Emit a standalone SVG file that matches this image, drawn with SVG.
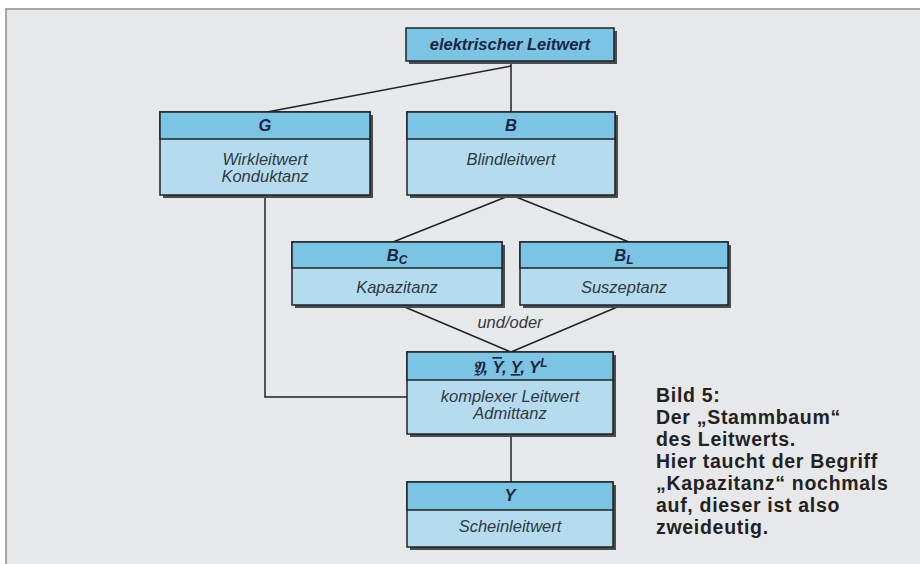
<svg xmlns="http://www.w3.org/2000/svg" width="920" height="564" viewBox="0 0 920 564">
<style>
.sh{fill:#4a4e52}
.hd{fill:#7cc4e4;stroke:#1e2328;stroke-width:1.5}
.bd{fill:#b5dcee;stroke:#1e2328;stroke-width:1.5}
.ht{font-family:"Liberation Sans",Arial,sans-serif;font-size:16.5px;font-weight:bold;font-style:italic;fill:#1c2640;text-anchor:middle}
.bt{font-family:"Liberation Sans",Arial,sans-serif;font-size:16.5px;font-style:italic;fill:#33383f;text-anchor:middle}
.cap{font-family:"Liberation Sans",Arial,sans-serif;font-size:19.5px;letter-spacing:0.7px;font-weight:bold;fill:#222}
.ln{stroke:#1e2328;stroke-width:1.5;fill:none}
</style>
<rect x="0" y="0" width="920" height="564" fill="#ffffff"/>
<rect x="6" y="9" width="920" height="560" fill="#e7e8ea" stroke="#8a8c8e" stroke-width="1.5"/>
<g id="connectors">
<line class="ln" x1="511" y1="61" x2="511" y2="112"/>
<line class="ln" x1="267" y1="112" x2="511" y2="66"/>
<line class="ln" x1="511" y1="195" x2="393" y2="242"/>
<line class="ln" x1="511" y1="195" x2="629" y2="242"/>
<line class="ln" x1="400" y1="305" x2="511" y2="352"/>
<line class="ln" x1="622" y1="305" x2="511" y2="352"/>
<polyline class="ln" points="265,195 265,397 407,397"/>
<line class="ln" x1="511" y1="434" x2="511" y2="482"/>
<text x="510" y="328" class="bt">und/oder</text>
</g>
<g id="leitwert">
<rect class="sh" x="409" y="31" width="208" height="33"/>
<rect class="hd" x="406" y="28" width="208" height="33"/>
<text class="ht" x="510" y="50">elektrischer Leitwert</text>
</g>
<g id="G">
<rect class="sh" x="163" y="115" width="210" height="83"/>
<rect class="bd" x="160" y="112" width="210" height="83"/>
<rect class="hd" x="160" y="112" width="210" height="27"/>
<text class="ht" x="265" y="131">G</text>
<text class="bt" x="265" y="165">Wirkleitwert</text>
<text class="bt" x="265" y="182">Konduktanz</text>
</g>
<g id="B">
<rect class="sh" x="410" y="115" width="208" height="83"/>
<rect class="bd" x="407" y="112" width="208" height="83"/>
<rect class="hd" x="407" y="112" width="208" height="27"/>
<text class="ht" x="511" y="131">B</text>
<text class="bt" x="511" y="165">Blindleitwert</text>
</g>
<g id="BC">
<rect class="sh" x="295" y="245" width="210" height="63"/>
<rect class="bd" x="292" y="242" width="210" height="63"/>
<rect class="hd" x="292" y="242" width="210" height="26"/>
<text class="ht" x="397" y="261">B<tspan font-size="12" dy="3">C</tspan></text>
<text class="bt" x="397" y="293">Kapazitanz</text>
</g>
<g id="BL">
<rect class="sh" x="523" y="245" width="208" height="63"/>
<rect class="bd" x="520" y="242" width="208" height="63"/>
<rect class="hd" x="520" y="242" width="208" height="26"/>
<text class="ht" x="624" y="261">B<tspan font-size="12" dy="3">L</tspan></text>
<text class="bt" x="624" y="293">Suszeptanz</text>
</g>
<g id="komplex">
<rect class="sh" x="410" y="355" width="206" height="82"/>
<rect class="bd" x="407" y="352" width="206" height="82"/>
<rect class="hd" x="407" y="352" width="206" height="28"/>
<text class="ht" x="510" y="373">𝔜, <tspan text-decoration="overline">Y</tspan>, <tspan text-decoration="underline">Y</tspan>, Y<tspan font-size="12" dy="-6">L</tspan></text>
<text class="bt" x="510" y="402">komplexer Leitwert</text>
<text class="bt" x="510" y="419">Admittanz</text>
</g>
<g id="Y">
<rect class="sh" x="410" y="485" width="206" height="65"/>
<rect class="bd" x="407" y="482" width="206" height="65"/>
<rect class="hd" x="407" y="482" width="206" height="28"/>
<text class="ht" x="510" y="501">Y</text>
<text class="bt" x="510" y="532">Scheinleitwert</text>
</g>
<g id="caption">
<text class="cap" x="656" y="402">Bild 5:</text>
<text class="cap" x="656" y="424">Der „Stammbaum“</text>
<text class="cap" x="656" y="446">des Leitwerts.</text>
<text class="cap" x="656" y="468">Hier taucht der Begriff</text>
<text class="cap" x="656" y="490">„Kapazitanz“ nochmals</text>
<text class="cap" x="656" y="512">auf, dieser ist also</text>
<text class="cap" x="656" y="534">zweideutig.</text>
</g>
</svg>
